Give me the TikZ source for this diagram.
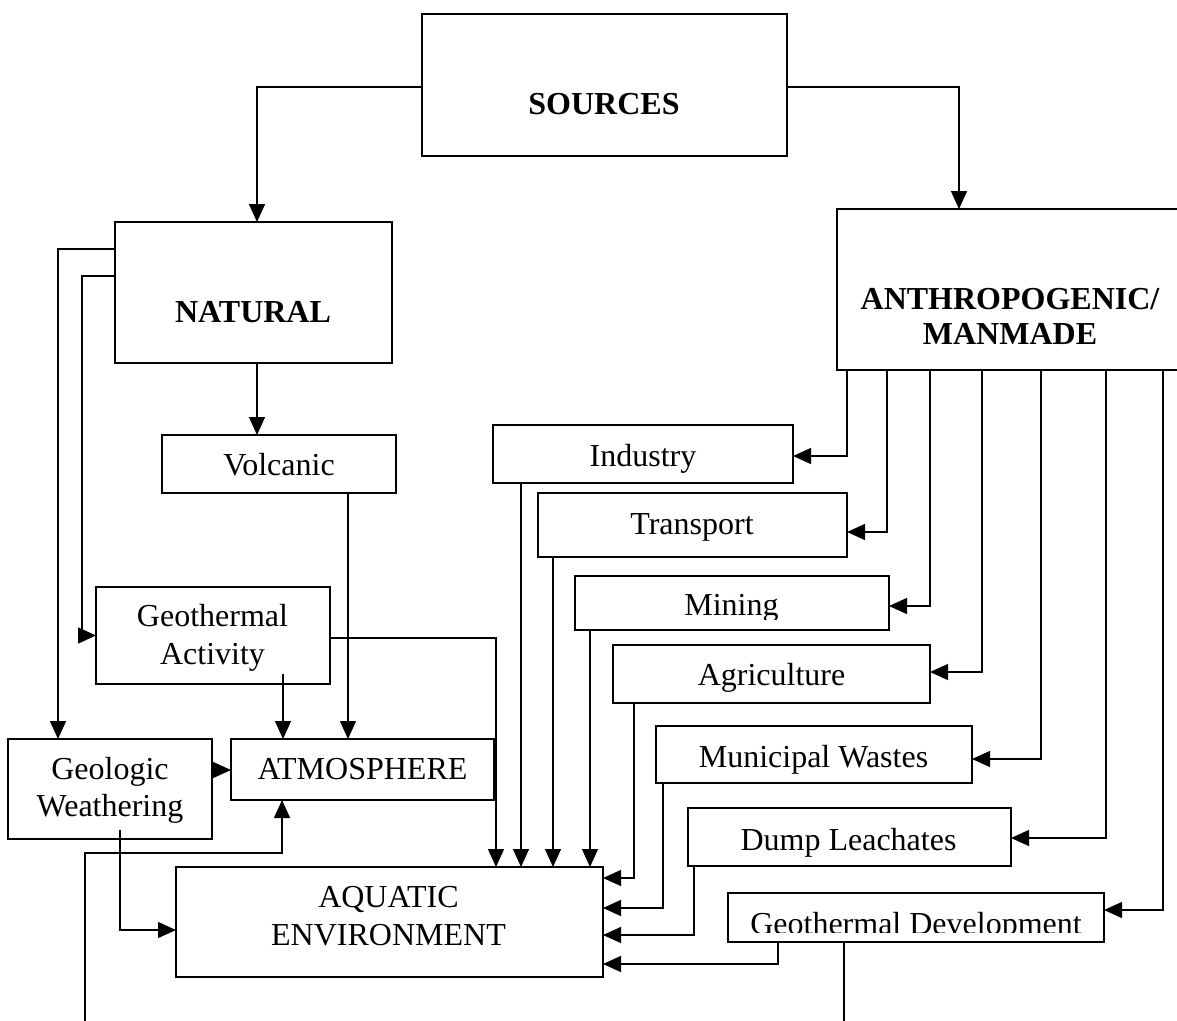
\documentclass[tikz,border=0pt]{standalone}
\usepackage{fontspec}
\setmainfont{Liberation Serif}
\usetikzlibrary{arrows.meta}
\begin{document}
\begin{tikzpicture}[x=1pt,y=-1pt,
  box/.style={draw, line width=1.8pt, inner sep=0pt, outer sep=0pt},
  mainbox/.style={box, line width=2.6pt},
  lbl/.style={font=\fontsize{32}{37.5}\selectfont, align=center, inner sep=0pt},
  hd/.style={font=\bfseries\fontsize{32}{35}\selectfont, align=center, inner sep=0pt},
  conn/.style={line width=1.2pt},
  heavy/.style={line width=1.6pt},
  arr/.style={-{Triangle[length=18pt,width=16pt]}},
]
\path[use as bounding box] (0,0) rectangle (1177,1020);
\clip (0,0) rectangle (1177,1020);
\fill[white] (0,0) rectangle (1177,1020);

% ---- boxes ----
\node[box, minimum width=365pt, minimum height=142pt] (sources)   at (604.5,85)   {};
\node[box, minimum width=277pt, minimum height=141pt] (natural)   at (253.5,292.5) {};
\node[box, minimum width=353pt, minimum height=161pt] (anthro)    at (1013.5,289.5) {};
\node[box, minimum width=234pt, minimum height=58pt]  (volcanic)  at (279,464)    {};
\node[box, minimum width=234pt, minimum height=97pt]  (geoact)    at (213,635.5)  {};
\node[box, minimum width=204pt, minimum height=100pt] (geoweath)  at (110,789)    {};
\node[box, minimum width=263pt, minimum height=61pt]  (atmos)     at (362.5,769.5) {};
\node[mainbox, minimum width=427pt, minimum height=110pt] (aquatic) at (389.5,922) {};
\node[box, minimum width=300pt, minimum height=58pt]  (industry)  at (643,454)    {};
\node[box, minimum width=309pt, minimum height=64pt]  (transport) at (692.5,525)  {};
\node[box, minimum width=314pt, minimum height=54pt]  (mining)    at (732,603)    {};
\node[box, minimum width=317pt, minimum height=58pt]  (agri)      at (771.5,674)  {};
\node[box, minimum width=316pt, minimum height=57pt]  (municipal) at (814,754.5)  {};
\node[box, minimum width=323pt, minimum height=58pt]  (dump)      at (849.5,837)  {};
\node[box, minimum width=376pt, minimum height=49pt]  (geodev)    at (916,917.5)  {};

% ---- labels ----
\node[hd, anchor=base] (sources-t) at (604,114) {SOURCES};
\node[hd, anchor=base] (natural-t) at (253,322) {NATURAL};
\node[hd] (anthro-t) at (1010,316.5) {ANTHROPOGENIC/\\MANMADE};
\node[lbl, anchor=base] (volcanic-t) at (279,475) {Volcanic};
\node[lbl] (geoact-t) at (212.5,637.9) {Geothermal\\Activity};
\node[lbl] (geoweath-t) at (110,790.1) {Geologic\\Weathering};
\node[lbl, anchor=base] (atmos-t) at (362.5,779.5) {ATMOSPHERE};
\node[lbl] (aquatic-t) at (388.5,916.3) {AQUATIC\\ENVIRONMENT};
\node[lbl, anchor=base] (industry-t) at (643,466) {Industry};
\node[lbl, anchor=base] (transport-t) at (692,534) {Transport};
\begin{scope}
  \clip (mining.north west) rectangle ([yshift=11pt]mining.south east);
  \node[lbl, anchor=base] (mining-t) at (731.5,615) {Mining};
\end{scope}
\node[lbl, anchor=base] (agri-t) at (771.5,685) {Agriculture};
\node[lbl, anchor=base] (municipal-t) at (813.5,767) {Municipal Wastes};
\node[lbl, anchor=base] (dump-t) at (848.5,850) {Dump Leachates};
\begin{scope}
  \clip (geodev.north west) rectangle ([yshift=10pt]geodev.south east);
  \node[lbl, anchor=base] (geodev-t) at (916,934) {Geothermal Development};
\end{scope}

% ---- free ends leaving the picture ----
\coordinate (inflow) at (85,1024);
\coordinate (geodrain) at (844,1024);

% ---- sources split ----
\draw[heavy, arr] ([yshift=-2pt]sources.west) -| ([xshift=3.5pt]natural.north);
\draw[heavy, arr] ([yshift=-2pt]sources.east) -| ([xshift=-54.5pt]anthro.north);

% ---- natural branch ----
\draw[heavy, arr] ([yshift=-27pt]natural.north west) -| ([xshift=-52pt]geoweath.north);
\draw[heavy, arr] ([yshift=-54pt]natural.north west) -| ([xshift=-14pt]geoact.west) -- (geoact.west);
\draw[conn, arr] ([xshift=3.5pt]natural.south) -- ([xshift=3.5pt]natural.south |- volcanic.north);
\draw[conn, arr] ([xshift=69pt]volcanic.south) -- ([xshift=69pt]volcanic.south |- atmos.north);
\draw[conn, arr] ([xshift=70pt,yshift=10pt]geoact.south) -- ([xshift=70pt]geoact.south |- atmos.north);
\draw[conn, arr] ([yshift=-2.5pt]geoact.east) -| ([xshift=106.5pt]aquatic.north);
\draw[conn, arr] ([yshift=19pt]geoweath.east) -- ([yshift=19pt]geoweath.east -| atmos.west);
\draw[conn, arr] ([xshift=10pt,yshift=9pt]geoweath.south) |- ([yshift=-8pt]aquatic.west);
\draw[conn, arr] (inflow) |- ([xshift=-80.5pt,yshift=-53pt]atmos.south) -- ([xshift=-80.5pt]atmos.south);

% ---- anthropogenic branch ----
\draw[conn, arr] ([xshift=10pt]anthro.south west)  |- ([yshift=-2pt]industry.east);
\draw[conn, arr] ([xshift=50pt]anthro.south west)  |- ([yshift=-7pt]transport.east);
\draw[conn, arr] ([xshift=93pt]anthro.south west)  |- ([yshift=-3pt]mining.east);
\draw[conn, arr] ([xshift=145pt]anthro.south west) |- ([yshift=2pt]agri.east);
\draw[conn, arr] ([xshift=204pt]anthro.south west) |- ([yshift=-4.5pt]municipal.east);
\draw[conn, arr] ([xshift=269pt]anthro.south west) |- ([yshift=-1pt]dump.east);
\draw[conn, arr] ([xshift=326pt]anthro.south west) |- ([yshift=7.5pt]geodev.east);

% ---- into the aquatic environment ----
\draw[conn, arr] ([xshift=28pt]industry.south west) -- ([xshift=28pt]industry.south west |- aquatic.north);
\draw[conn, arr] ([xshift=15pt]transport.south west) -- ([xshift=15pt]transport.south west |- aquatic.north);
\draw[conn, arr] ([xshift=15pt]mining.south west) -- ([xshift=15pt]mining.south west |- aquatic.north);
\draw[conn, arr] ([xshift=21pt]agri.south west) |- ([yshift=44pt]aquatic.east);
\draw[conn, arr] ([xshift=7pt]municipal.south west) |- ([yshift=14pt]aquatic.east);
\draw[conn, arr] ([xshift=6pt]dump.south west) |- ([yshift=-13pt]aquatic.east);
\draw[conn, arr] ([xshift=50pt]geodev.south west) |- ([yshift=-42pt]aquatic.east);
\draw[conn] ([xshift=-72pt]geodev.south) -- (geodrain);
\end{tikzpicture}
\end{document}
